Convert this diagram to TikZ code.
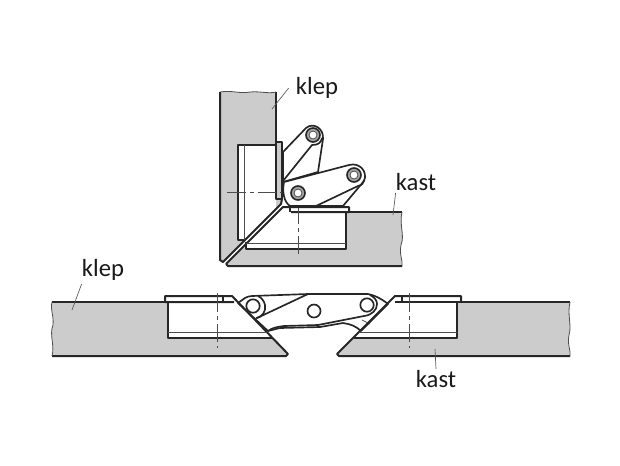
\documentclass[tikz,border=0pt]{standalone}
\usepackage{fontspec}
\setmainfont{Carlito}
\tikzset{
  outline/.style={draw=black!85,line width=1.5pt,line join=round},
  hingeline/.style={draw=black!85,line width=1.25pt,line join=round},
  thinline/.style={draw=black!70,line width=0.6pt},
  panel/.style={fill=black!20,draw=none},
  centerline/.style={draw=black!70,line width=0.6pt,dash pattern=on 14pt off 3pt on 3pt off 3pt},
  leader/.style={draw=black!65,line width=0.5pt},
  pinring/.style={draw=black!85,line width=1.2pt,fill=black!35},
  pinhole/.style={draw=black!70,line width=0.6pt,fill=white},
  labeltext/.style={font=\fontsize{18.5}{20}\selectfont,inner sep=0pt,text=black!90}
}
\begin{document}
\begin{tikzpicture}[x=0.75pt,y=0.75pt,yscale=-1,xscale=1]
\useasboundingbox (0,0) rectangle (620,465);

%Shape: upper klep
\fill[panel] (220,92) .. controls (232,90) and (240,94) .. (250,92) .. controls (260,91) and (268,94) .. (276,92) -- (276,142) -- (282,142) -- (282,203) -- (224,262) -- (220,260) -- cycle;
%Shape: upper kast
\fill[panel] (226,265) -- (283,209) -- (349,212) -- (402,212) .. controls (399,225) and (405,235) .. (401,245) .. controls (399,255) and (403,260) .. (402,266) -- (230,266) -- cycle;
%Shape: upper cups
\fill[white] (238,145) rectangle (276,240);
\fill[white] (246,212) -- (346,212) -- (346,249) -- (246,249) -- cycle;
\fill[white] (238,240) -- (283,207) -- (349,207) -- (349,212) -- (346,212) -- (346,243) -- (246,243) -- (246,240) -- cycle;
%Lines: upper klep
\draw[outline] (276,92) -- (276,145);
\draw[outline] (220,92) -- (220,260) -- (223,262) -- (281,204) -- (282,199);
\draw[outline] (276,142) -- (282,142) -- (282,199) -- (276,199) -- (276,142);
\draw[outline] (276,145) -- (238,145) -- (238,240) -- (245,240);
\draw[thinline] (244,145) -- (244,240);
%Lines: upper kast
\draw[outline] (402,212) -- (349,212);
\draw[outline] (226,264) -- (283,207) -- (349,207) -- (349,212) -- (291,212);
\draw[outline] (226,264) -- (228,266) -- (402,266);
\draw[outline] (346,212) -- (346,249) -- (246,249) -- (246,242);
\draw[thinline] (246,243) -- (346,243);
\draw[outline] (290,207) -- (290,212);
%Lines: wavy ends
\draw[thinline] (220,92) .. controls (232,90) and (240,94) .. (250,92) .. controls (260,91) and (268,94) .. (276,92);
\draw[thinline] (402,212) .. controls (399,225) and (405,235) .. (401,245) .. controls (399,255) and (403,260) .. (402,266);
%Centre lines
\draw[centerline] (227,192) -- (282,192);
\draw[centerline] (298,205) -- (298,258);

%Shape: upper hinge arm
\draw[hingeline,fill=white] (283,152) -- (306,128) .. controls (313,122) and (324,128) .. (323,139) -- (318,172) -- (283,182) -- cycle;
\draw[hingeline] (283,181) -- (312,145) .. controls (318,145) and (321,143) .. (322,138);
%Shape: lower hinge arm
\draw[hingeline,fill=white] (284,182) -- (349,165) .. controls (360,162) and (368,172) .. (364,181) -- (343,206) -- (312,206) -- (290,206) .. controls (284,202) and (282,192) .. (284,182) -- cycle;
\draw[hingeline] (316,206) -- (358,186) .. controls (362,185) and (364,183) .. (364,180);
\draw[hingeline] (283,207) -- (349,207);
%Pins
\draw[pinring] (313,135) circle (7);
\draw[pinhole] (313,135) circle (4);
\draw[pinring] (298,193) circle (7);
\draw[pinhole] (298,193) circle (4);
\draw[pinring] (354,175) circle (7);
\draw[pinhole] (354,175) circle (4);

%Shape: lower klep
\fill[panel] (52,302) -- (168,302) -- (168,338) -- (272,338) -- (288,354) -- (286,356) -- (52,356) .. controls (55,345) and (49,335) .. (53,325) .. controls (54,315) and (50,310) .. (52,302) -- cycle;
%Shape: lower kast
\fill[panel] (337,354) -- (353,338) -- (457,338) -- (457,302) -- (570,302) .. controls (567,315) and (572,325) .. (569,335) .. controls (567,345) and (571,350) .. (570,356) -- (339,356) -- cycle;

%Shape: lower hinge
\draw[hingeline,fill=white] (238,303) -- (245,298) .. controls (247,297) and (249,296) .. (252,296) -- (308,294) -- (368,294) .. controls (374,295) and (382,299) .. (388,304) -- (361,331) .. controls (356,326) and (350,324) .. (343,323) -- (320,327) -- (280,328) -- (268,331) -- cycle;
\draw[hingeline] (257,318) -- (308,294);
\draw[hingeline] (256,318) .. controls (263,317) and (266,311) .. (265,305) .. controls (264,301) and (262,298) .. (258,296);
\draw[hingeline] (268,331) .. controls (272,328) and (276,327) .. (284,326) -- (318,325) -- (364,316);
\draw[hingeline] (364,316) .. controls (372,315) and (377,310) .. (377,304) .. controls (377,300) and (374,297) .. (370,295);
\draw[thinline] (362,320) -- (370,324);
\draw[hingeline,fill=white] (253,306) circle (6.7);
\draw[hingeline,fill=white] (314,311) circle (6.5);
\draw[hingeline,fill=white] (367,305) circle (6.7);

%Lines: lower klep
\draw[outline] (52,302) -- (168,302);
\draw[outline] (52,356) -- (286,356) -- (288,354) -- (232,296) -- (165,296) -- (165,302) -- (234,302);
\draw[outline] (168,302) -- (168,338) -- (272,338);
\draw[thinline] (168,332) -- (267,332);
\draw[outline] (223,296) -- (223,302);
\draw[centerline] (217,293) -- (217,348);
\draw[thinline] (52,302) .. controls (50,310) and (54,315) .. (53,325) .. controls (49,335) and (55,345) .. (52,356);
%Lines: lower kast
\draw[outline] (570,302) -- (395,302);
\draw[outline] (570,356) -- (339,356) -- (337,354) -- (395,296) -- (461,296) -- (461,302);
\draw[outline] (457,302) -- (457,338) -- (354,338);
\draw[thinline] (359,332) -- (457,332);
\draw[outline] (402,296) -- (402,302);
\draw[centerline] (409,293) -- (409,348);
\draw[thinline] (570,302) .. controls (567,315) and (572,325) .. (569,335) .. controls (567,345) and (571,350) .. (570,356);

%Coordinates of the leaders
\coordinate (klepa) at (272,109);
\coordinate (kasta) at (393,215);
\coordinate (klepb) at (72,310);
\coordinate (kastb) at (435,349);

% Text Node
\node[labeltext] (klepup) at (317,88) {klep};
% Text Node
\node[labeltext] (kastup) at (416,182) {kast};
% Text Node
\node[labeltext] (kleplow) at (103,270) {klep};
% Text Node
\node[labeltext] (kastlow) at (436,379) {kast};

\draw[leader] (klepup.west)+(-7,0) -- (klepa);
\draw[leader] (kastup.south west)+(0,2) -- (kasta);
\draw[leader] (kleplow.south west)+(0,3) -- (klepb);
\draw[leader] (kastlow.north)+(0,-1) -- (kastb);
\end{tikzpicture}
\end{document}
